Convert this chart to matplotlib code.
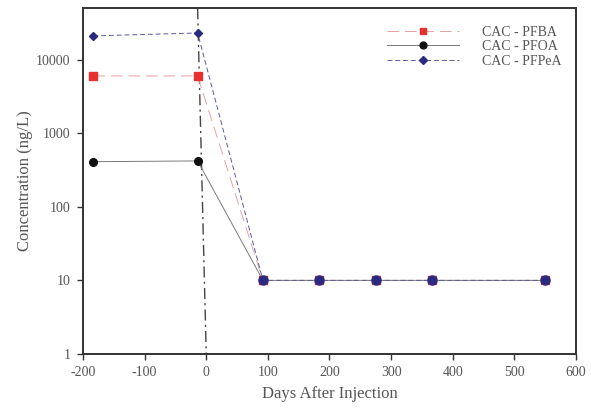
import matplotlib
matplotlib.use("Agg")
import matplotlib.pyplot as plt
from matplotlib.ticker import FixedLocator, FixedFormatter, NullLocator

days = [-183, -14, 92, 183, 275, 366, 549]
pfba = [6000, 6000, 10, 10, 10, 10, 10]
pfoa = [410, 420, 10, 10, 10, 10, 10]
pfpea = [21000, 23000, 10, 10, 10, 10, 10]
injection_x = [-14, 0]
injection_y = [50000, 1]

xticks = [-200, -100, 0, 100, 200, 300, 400, 500, 600]
xtick_labels = ["-200", "-100", "0", "100", "200", "300", "400", "500", "600"]
yticks = [1, 10, 100, 1000, 10000]
ytick_labels = ["1", "10", "100", "1000", "10000"]

plt.rcParams['font.family'] = ['Liberation Serif', 'DejaVu Serif']
plt.rcParams['axes.unicode_minus'] = False
txt = '#555555'

fig = plt.figure(figsize=(5.91, 4.08), dpi=100)
ax = fig.add_axes([0.1404, 0.1324, 0.8342, 0.8476])

ax.plot(injection_x, injection_y, color='#444444', lw=1.0, linestyle=(0, (8, 3, 1.5, 3)), zorder=2)

ax.plot(days, pfba, color='#e8a0a0', lw=0.7, linestyle=(0, (12, 6)), marker='s', ms=5.5,
        mfc='#e83030', mec='#e83030', label='CAC - PFBA', zorder=3)
ax.plot(days, pfoa, color='#7a7a7a', lw=0.7, linestyle='-', marker='o', ms=5.5,
        mfc='#111111', mec='#111111', label='CAC - PFOA', zorder=4)
ax.plot(days, pfpea, color='#5a5a9a', lw=0.7, linestyle=(0, (5, 3)), marker='D', ms=4.5,
        mfc='#2a2a80', mec='#2a2a80', label='CAC - PFPeA', zorder=5)
ax.plot(days[2:], pfpea[2:], linestyle='none', marker='o', ms=6.5,
        mfc='#2a2a80', mec='#2a2a80', zorder=6)

ax.set_yscale('log')
ax.set_xlim(-200, 600)
ax.set_ylim(1, 50000)
ax.xaxis.set_major_locator(FixedLocator(xticks))
ax.xaxis.set_major_formatter(FixedFormatter(xtick_labels))
ax.yaxis.set_major_locator(FixedLocator(yticks))
ax.yaxis.set_major_formatter(FixedFormatter(ytick_labels))
ax.yaxis.set_minor_locator(NullLocator())
ax.tick_params(axis='both', direction='out', length=4, width=1, labelsize=10,
               colors='#333333', labelcolor=txt, pad=5)

for s in ax.spines.values():
    s.set_linewidth(1.4)
    s.set_color('#333333')

ax.set_xlabel('Days After Injection', fontsize=12, color=txt, labelpad=5)
ax.set_ylabel('Concentration (ng/L)', fontsize=12, color=txt, labelpad=2)

leg = ax.legend(loc='upper right', bbox_to_anchor=(0.995, 0.985), frameon=False, fontsize=10,
                handlelength=5.2, labelspacing=0.1, handletextpad=1.6, markerscale=0.9)
for t in leg.get_texts():
    t.set_color(txt)

fig.savefig('out.png', dpi=100)
